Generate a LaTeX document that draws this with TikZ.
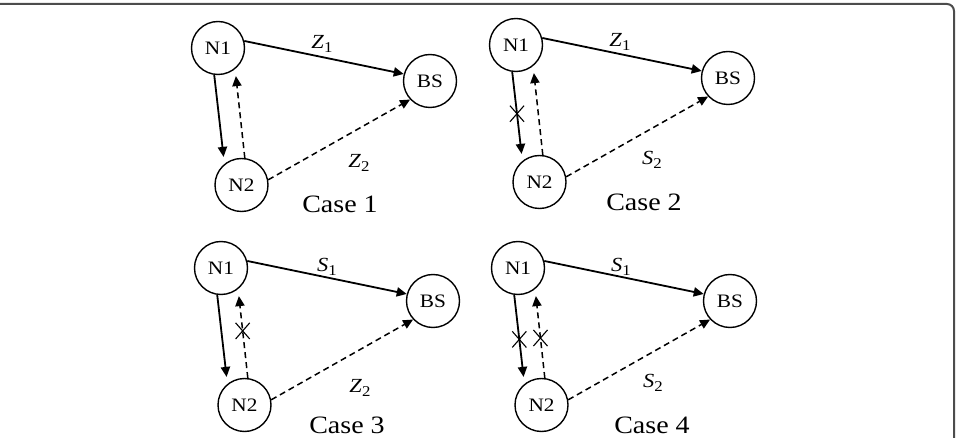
\documentclass[tikz,border=0pt]{standalone}
\usepackage{fontspec}
\setmainfont{Liberation Serif}
\newfontfamily\figfont[FakeStretch=1.12]{Liberation Serif}
\usetikzlibrary{arrows.meta,shapes.misc}

\newcommand{\lbl}[2]{\textit{#1}\raisebox{-0.5ex}{\fontsize{7.5}{8}\selectfont #2}}

\tikzset{
	station/.style={draw, circle, line width=0.7pt, minimum size=26.5pt, inner sep=0pt, font=\figfont\fontsize{9.5}{11}\selectfont},
	link/.style={line width=0.9pt, -{Triangle[length=5pt,width=4.6pt]}},
	dlink/.style={link, line width=0.75pt, dash pattern=on 3pt off 2pt},
	crossmark/.style={draw, solid, cross out, shorten >=0pt, shorten <=0pt, line width=0.55pt, minimum width=6.5pt, minimum height=7.5pt, inner sep=0pt},
	lab/.style={font=\figfont\fontsize{10}{12}\selectfont},
	casetext/.style={font=\figfont\fontsize{12.5}{14}\selectfont},
}

\begin{document}
\begin{tikzpicture}[x=0.5pt, y=-0.5pt]

	\useasboundingbox (0,0) rectangle (959,438);

	% Frame
	\draw[black!70, line width=1pt, rounded corners=3.5pt] (0,4) -- (954,4) -- (954,438);

	% Case 1
	\begin{scope}[shift={(218,48)}]
		\node[station] (N1-1) at (0,0) {N1};
		\node[station] (BS-1) at (212,33) {BS};
		\node[station] (N2-1) at (23.5,137) {N2};
		\draw[link] (N1-1.15) -- (BS-1.165);
		\draw[link, shorten >=3.5pt] (N1-1.262) -- (N2-1.129);
		\draw[dlink, shorten >=3.5pt] (N2-1.83) -- (N1-1.309);
		\draw[dlink] (N2-1.11) -- (BS-1.223);
		\node[lab] (l1-1) at (104,-4) {\lbl{Z}{1}};
		\node[lab] (l2-1) at (141,115) {\lbl{Z}{2}};
		\node[casetext] (c-1) at (122,156) {Case 1};
	\end{scope}

	% Case 2
	\begin{scope}[shift={(516,45)}]
		\node[station] (N1-2) at (0,0) {N1};
		\node[station] (BS-2) at (212,33) {BS};
		\node[station] (N2-2) at (23.5,137) {N2};
		\draw[link] (N1-2.15) -- (BS-2.165);
		\draw[link, shorten >=3.5pt] (N1-2.262) -- node[crossmark, pos=0.47] (x1-2) {} (N2-2.129);
		\draw[dlink, shorten >=3.5pt] (N2-2.83) -- (N1-2.309);
		\draw[dlink] (N2-2.11) -- (BS-2.223);
		\node[lab] (l1-2) at (104,-3) {\lbl{Z}{1}};
		\node[lab] (l2-2) at (136,115) {\lbl{S}{2}};
		\node[casetext] (c-2) at (128,157) {Case 2};
	\end{scope}

	% Case 3
	\begin{scope}[shift={(221,268)}]
		\node[station] (N1-3) at (0,0) {N1};
		\node[station] (BS-3) at (212,33) {BS};
		\node[station] (N2-3) at (23.5,137) {N2};
		\draw[link] (N1-3.15) -- (BS-3.165);
		\draw[link, shorten >=3.5pt] (N1-3.262) -- (N2-3.129);
		\draw[dlink, shorten >=3.5pt] (N2-3.83) -- node[crossmark, pos=0.53] (x2-3) {} (N1-3.309);
		\draw[dlink] (N2-3.11) -- (BS-3.223);
		\node[lab] (l1-3) at (106,-1) {\lbl{S}{1}};
		\node[lab] (l2-3) at (139,120) {\lbl{Z}{2}};
		\node[casetext] (c-3) at (126,157) {Case 3};
	\end{scope}

	% Case 4
	\begin{scope}[shift={(518,268)}]
		\node[station] (N1-4) at (0,0) {N1};
		\node[station] (BS-4) at (212,33) {BS};
		\node[station] (N2-4) at (23.5,137) {N2};
		\draw[link] (N1-4.15) -- (BS-4.165);
		\draw[link, shorten >=3.5pt] (N1-4.262) -- node[crossmark, pos=0.5] (x1-4) {} (N2-4.129);
		\draw[dlink, shorten >=3.5pt] (N2-4.83) -- node[crossmark, pos=0.45] (x2-4) {} (N1-4.309);
		\draw[dlink] (N2-4.11) -- (BS-4.223);
		\node[lab] (l1-4) at (103,-1) {\lbl{S}{1}};
		\node[lab] (l2-4) at (135,115) {\lbl{S}{2}};
		\node[casetext] (c-4) at (134,157) {Case 4};
	\end{scope}

\end{tikzpicture}
\end{document}
